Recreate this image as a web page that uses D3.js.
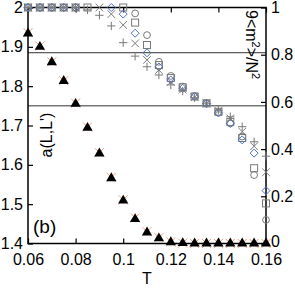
<!DOCTYPE html>
<html><head><meta charset="utf-8">
<script src="https://cdn.jsdelivr.net/npm/d3@7"></script>
<style>html,body{margin:0;padding:0;background:#fff}svg{display:block}</style>
</head><body>
<svg id="c" width="295" height="289"></svg>
<script>
// ---- data ----
const temps = [0.06,0.065,0.07,0.075,0.08,0.085,0.09,0.095,0.1,0.105,0.11,0.115,0.12,0.125,0.13,0.135,0.14,0.145,0.15,0.155,0.16];
const aLL   = [1.934,1.900,1.861,1.813,1.755,1.694,1.629,1.566,1.509,1.462,1.428,1.413,1.403,1.401,1.400,1.400,1.400,1.400,1.400,1.400,1.400];
const aLLx  = [1.936,1.902,1.862,1.814,1.757,1.696,1.631,1.568,1.511,1.465,1.430,1.415,1.404,1.401,1.400,1.400,1.400,1.400,1.400,1.400,1.400];
const mPlus    = [1,1,1,1,1,0.99,0.967,0.922,0.851,0.794,0.749,0.714,0.672,0.646,0.618,0.594,0.565,0.537,0.495,0.431,0.370];
const mCross   = [1,1,1,1,1,null,1,0.972,0.926,0.848,0.778,0.735,0.684,0.652,0.620,0.594,0.562,0.530,0.474,0.412,0.302];
const mDiamond = [1,1,1,1,1,null,null,1,0.972,0.891,0.808,0.748,0.693,0.658,0.622,0.592,0.553,0.509,0.439,0.383,0.224];
const mSquare  = [1,1,1,1,1,1,null,null,1,0.936,0.841,0.756,0.701,0.662,0.623,0.594,0.558,0.515,0.447,0.319,0.170];
const mCircle  = [1,1,1,1,1,null,null,null,null,0.975,0.883,0.770,0.710,0.665,0.625,0.595,0.556,0.509,0.453,0.290,0.100];
const refLines = [1.885, 1.75];
const xTicks = [0.06,0.08,0.1,0.12,0.14,0.16];
const yLTicks = [1.4,1.5,1.6,1.7,1.8,1.9,2];
const yRTicks = [0,0.2,0.4,0.6,0.8,1];

// ---- layout ----
const L = 28, R = 266, Tp = 7.5, B = 243.5;
const svg = d3.select("#c");
const x = d3.scaleLinear().domain([0.06,0.16]).range([L,R]);
const yL = d3.scaleLinear().domain([1.4,2]).range([B,Tp]);
const yR = d3.scaleLinear().domain([0,1]).range([B,Tp]);
const font = "Liberation Sans, Arial, sans-serif";

// reference lines
svg.selectAll("line.ref").data(refLines).join("line")
  .attr("x1",L).attr("x2",R).attr("y1",d=>yL(d)).attr("y2",d=>yL(d))
  .attr("stroke","#333").attr("stroke-width",1);

// axes
const fmt = d => String(+d.toFixed(2));
function styleAxis(g){ g.select(".domain").remove(); g.selectAll(".tick line").attr("stroke","#000").attr("stroke-width",1.2);
  g.selectAll(".tick text").attr("font-family",font).attr("font-size",16).attr("fill","#000"); }
svg.append("g").attr("transform",`translate(0,${B})`)
  .call(d3.axisBottom(x).tickValues(xTicks).tickSizeInner(-5).tickSizeOuter(0).tickPadding(10).tickFormat(fmt)).call(styleAxis);
svg.append("g").attr("transform",`translate(0,${Tp})`)
  .call(d3.axisTop(x).tickValues(xTicks).tickSizeInner(-5).tickSizeOuter(0).tickFormat("")).call(styleAxis);
svg.append("g").attr("transform",`translate(${L},0)`)
  .call(d3.axisLeft(yL).tickValues(yLTicks).tickSizeInner(-5).tickSizeOuter(0).tickPadding(5).tickFormat(fmt)).call(styleAxis);
const gr = svg.append("g").attr("transform",`translate(${R},0)`)
  .call(d3.axisRight(yR).tickValues(yRTicks).tickSizeInner(-5).tickSizeOuter(0).tickPadding(5).tickFormat(fmt)).call(styleAxis);
gr.selectAll(".tick text").filter(d=>d===0).attr("dy","0.2em");

// frame
svg.append("rect").attr("x",L).attr("y",Tp).attr("width",R-L).attr("height",B-Tp)
  .attr("fill","none").attr("stroke","#000").attr("stroke-width",1.5);

// scatter markers (right axis)
const gray = "#7a7a7a", blue = "#4f72c4";
function pts(arr){ return temps.map((t,i)=>({t, v:arr[i]})).filter(d=>d.v!==null); }
const mk = {
  circle: (g)=>g.append("circle").attr("r",3.4),
  square: (g)=>g.append("rect").attr("x",-3.5).attr("y",-3.5).attr("width",7).attr("height",7),
  diamond:(g)=>g.append("path").attr("d","M0,-4L4,0L0,4L-4,0Z"),
  cross:  (g)=>g.append("path").attr("d","M-3.8,-3.8L3.8,3.8M-3.8,3.8L3.8,-3.8"),
  plus:   (g)=>g.append("path").attr("d","M-4.2,0L4.2,0M0,-4.2L0,4.2")
};
const series = [
  {arr:mCircle, shape:"circle", color:gray},
  {arr:mSquare, shape:"square", color:gray},
  {arr:mDiamond, shape:"diamond", color:blue},
  {arr:mCross, shape:"cross", color:gray},
  {arr:mPlus, shape:"plus", color:gray}
];
series.forEach(s=>{
  svg.append("g").selectAll("g").data(pts(s.arr)).join("g")
    .attr("transform",d=>`translate(${x(d.t)},${yR(d.v)})`)
    .each(function(){ mk[s.shape](d3.select(this)).attr("fill","none").attr("stroke",s.color).attr("stroke-width",1); });
});

// a(L,L') salmon crosses + triangles (left axis)
svg.append("g").selectAll("path").data(temps.map((t,i)=>({t,v:aLLx[i]}))).join("path")
  .attr("transform",d=>`translate(${x(d.t)},${yL(d.v)})`)
  .attr("d","M-4.5,-4.5L4.5,4.5M-4.5,4.5L4.5,-4.5").attr("stroke","#f2a07e").attr("stroke-width",1).attr("fill","none");
const tri = d3.symbol().type(d3.symbolTriangle).size(46);
svg.append("g").selectAll("path").data(temps.map((t,i)=>({t,v:aLL[i]}))).join("path")
  .attr("transform",d=>`translate(${x(d.t)},${yL(d.v)})`)
  .attr("d",tri).attr("fill","#000");

// labels
svg.append("text").attr("x",147).attr("y",284).attr("text-anchor","middle")
  .attr("font-family",font).attr("font-size",16).text("T");
svg.append("text").attr("transform","translate(52,135) rotate(-90)").attr("text-anchor","middle")
  .attr("font-family",font).attr("font-size",16).text("a(L,L')");
const rt = svg.append("text").attr("transform","translate(246,10) rotate(90)")
  .attr("font-family",font).attr("font-size",16);
rt.append("tspan").text("9<m");
rt.append("tspan").attr("dy",-6).attr("font-size",11).text("2");
rt.append("tspan").attr("dy",6).text(">/N");
rt.append("tspan").attr("dy",-6).attr("font-size",11).text("2");
svg.append("text").attr("x",33).attr("y",233).attr("font-family",font).attr("font-size",19).text("(b)");
</script>
</body></html>
